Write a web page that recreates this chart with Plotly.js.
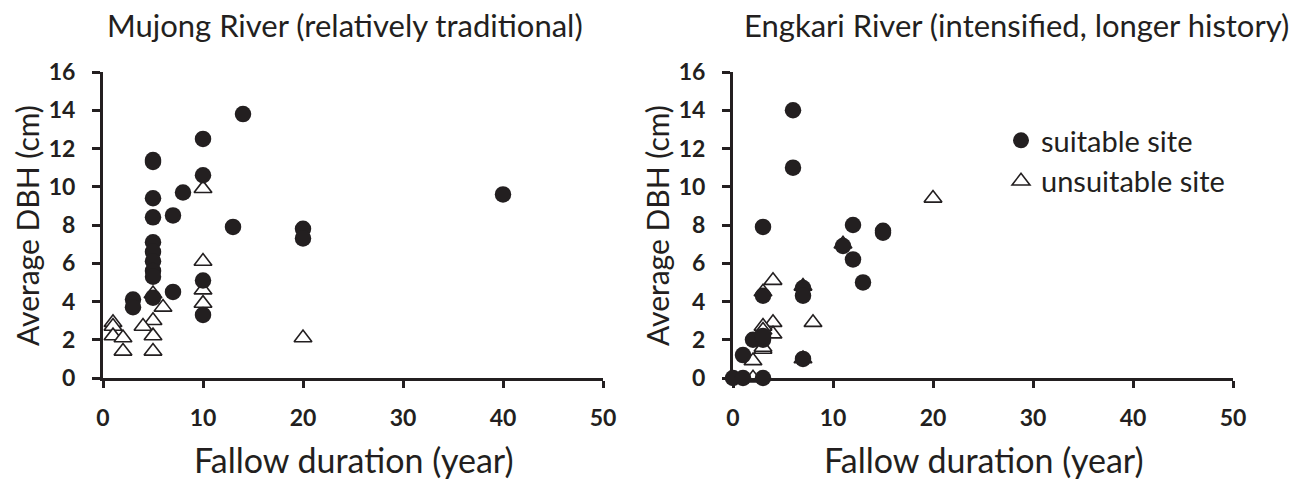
<!DOCTYPE html>
<html>
<head>
<meta charset="utf-8">
<script src="https://cdn.plot.ly/plotly-3.0.1.min.js"></script>
<style>
html,body{margin:0;padding:0;background:#fff;}
#chart{width:1295px;height:480px;}
</style>
</head>
<body>
<div id="chart"></div>
<script>
// Mujong River (left panel)
const mujongSuitableX = [14, 10, 5, 5, 10, 8, 5, 5, 7, 13, 20, 20, 5, 5, 5, 5, 5, 5, 7, 3, 3, 10, 10, 40];
const mujongSuitableY = [13.8, 12.5, 11.4, 11.3, 10.6, 9.7, 9.4, 8.4, 8.5, 7.9, 7.8, 7.3, 7.1, 6.6, 6.1, 5.6, 5.3, 4.2, 4.5, 4.1, 3.7, 5.1, 3.3, 9.6];
const mujongUnsuitableX = [10, 10, 10, 10, 5, 5, 5, 5, 6, 4, 1, 1, 1, 2, 2, 20];
const mujongUnsuitableY = [9.9, 6.1, 4.6, 3.9, 4.4, 3.0, 2.2, 1.4, 3.7, 2.7, 2.9, 2.7, 2.2, 2.1, 1.4, 2.1];

// Engkari River (right panel)
const engkariSuitableX = [6, 6, 3, 12, 15, 15, 11, 12, 13, 3, 7, 7, 7, 2, 3, 3, 1, 0, 1, 3];
const engkariSuitableY = [14.0, 11.0, 7.9, 8.0, 7.7, 7.6, 6.9, 6.2, 5.0, 4.3, 4.7, 4.3, 1.0, 2.0, 2.0, 2.2, 1.2, 0, 0, 0];
const engkariUnsuitableX = [4, 4, 4, 3, 3, 3, 3, 2, 2, 8, 7, 7, 3, 11, 20];
const engkariUnsuitableY = [5.1, 2.9, 2.3, 2.7, 2.5, 1.5, 1.6, 0.9, 0, 2.9, 4.8, 1.0, 4.5, 7.0, 9.4];

const panelTitles = ["Mujong River (relatively traditional)", "Engkari River (intensified, longer history)"];
const xTitle = "Fallow duration (year)";
const yTitle = "Average DBH (cm)";
const legendNames = ["suitable site", "unsuitable site"];
const xTicks = [0, 10, 20, 30, 40, 50];
const yTicks = [0, 2, 4, 6, 8, 10, 12, 14, 16];

const ink = "#231f20";
const FONT = "Lato, 'Noto Sans', sans-serif";

function circ(x, y, xa, ya, show) {
  return {x: x, y: y, xaxis: xa, yaxis: ya, type: "scatter", mode: "markers",
    name: legendNames[0], showlegend: show, legendrank: 1, cliponaxis: false,
    marker: {symbol: "circle", size: 16.5, color: ink, line: {width: 0}}};
}
function tri(x, y, xa, ya, show) {
  return {x: x, y: y, xaxis: xa, yaxis: ya, type: "scatter", mode: "markers",
    name: legendNames[1], showlegend: show, legendrank: 2, cliponaxis: false,
    marker: {symbol: "triangle-up", size: 15.5, color: "#ffffff", line: {width: 1.6, color: ink}}};
}

const data = [
  tri(mujongUnsuitableX, mujongUnsuitableY, "x", "y", false),
  circ(mujongSuitableX, mujongSuitableY, "x", "y", false),
  tri(engkariUnsuitableX, engkariUnsuitableY, "x2", "y2", true),
  circ(engkariSuitableX, engkariSuitableY, "x2", "y2", true)
];

function xax(dom, anchor) {
  return {domain: dom, anchor: anchor, range: [0, 50], tickvals: xTicks,
    showgrid: false, zeroline: false, showline: true, linewidth: 3, linecolor: ink,
    ticks: "outside", ticklen: 7, tickwidth: 3, tickcolor: ink, ticklabelstandoff: 10,
    tickfont: {family: FONT, size: 23, color: ink, weight: "bold"},
    fixedrange: true};
}
function yax(anchor) {
  return {domain: [0.2125, 0.85], anchor: anchor, range: [0, 16], tickvals: yTicks,
    showgrid: false, zeroline: false, showline: true, linewidth: 3, linecolor: ink,
    ticks: "outside", ticklen: 8, tickwidth: 3, tickcolor: ink, ticklabelstandoff: 12,
    tickfont: {family: FONT, size: 23, color: ink, weight: "bold"},
    fixedrange: true};
}

function ann(text, x, y, size, angle) {
  return {text: text, xref: "paper", yref: "paper", x: x / 1295, y: 1 - y / 480,
    xanchor: "center", yanchor: "middle", showarrow: false, textangle: angle || 0,
    font: {family: FONT, size: size, color: ink}};
}

const layout = {
  width: 1295, height: 480,
  margin: {l: 0, r: 0, t: 0, b: 0},
  paper_bgcolor: "#ffffff", plot_bgcolor: "#ffffff",
  font: {family: FONT, color: ink},
  xaxis: xax([103/1295, 603/1295], "y"),
  yaxis: yax("x"),
  xaxis2: xax([733/1295, 1233/1295], "y2"),
  yaxis2: yax("x2"),
  showlegend: true,
  legend: {x: 1001/1295, y: 1 - 115/480, xanchor: "left", yanchor: "top",
    font: {family: FONT, size: 29, color: ink}, bgcolor: "rgba(0,0,0,0)", itemwidth: 30},
  annotations: [
    ann(panelTitles[0], 345, 25, 31),
    ann(panelTitles[1], 1016, 25, 31),
    ann(xTitle, 354, 459, 34),
    ann(xTitle, 984, 459, 34),
    ann(yTitle, 27, 226, 30, -90),
    ann(yTitle, 657, 226, 30, -90)
  ]
};

Plotly.newPlot("chart", data, layout, {displayModeBar: false, staticPlot: true});
</script>
</body>
</html>
